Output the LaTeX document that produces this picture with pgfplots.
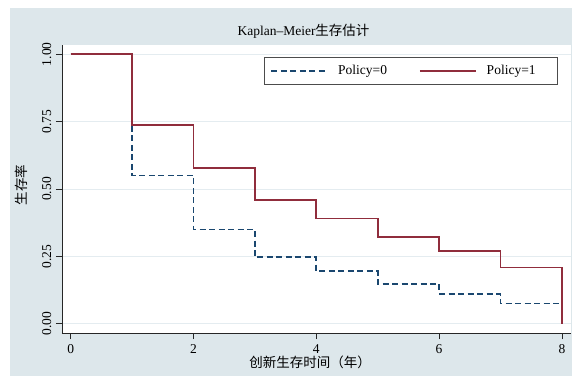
\documentclass[border=0pt]{standalone}
\usepackage{fontspec}
\setmainfont{Liberation Serif}
\newfontfamily\cjk{Noto Sans CJK SC}
\usepackage{pgfplots}
\pgfplotsset{compat=1.18}
\definecolor{bgc}{RGB}{221,231,235}
\definecolor{gridc}{RGB}{228,236,240}
\definecolor{navyc}{RGB}{26,71,111}
\definecolor{maroonc}{RGB}{144,45,60}
\begin{document}
\fontsize{13.5}{16}\selectfont
\begin{tikzpicture}
\useasboundingbox (0pt,0pt) rectangle (572pt,376pt);
\fill[white] (0pt,0pt) rectangle (572pt,376pt);
\fill[bgc] (10pt,0pt) rectangle (572pt,368pt);
\begin{axis}[
  scale only axis,
  width=509pt, height=288pt,
  at={(62pt,43pt)}, anchor=south west,
  xmin=-0.142, xmax=8.148,
  ymin=-0.0345, ymax=1.0345,
  axis background/.style={fill=white},
  axis x line*=bottom, axis y line*=left,
  axis line style={black!85, line width=0.8pt},
  xtick={0,2,4,6,8},
  ytick={0,0.25,0.5,0.75,1},
  yticklabels={0.00,0.25,0.50,0.75,1.00},
  tick align=outside,
  major tick length=6pt,
  tick style={black!85, line width=0.7pt},
  ymajorgrids,
  grid style={gridc, line width=1pt},
  /pgf/number format/assume math mode=true,
  every tick label/.append style={font=\fontsize{13.5}{16}\selectfont},
  yticklabel style={rotate=90, anchor=south, xshift=0pt},
  xticklabel style={yshift=-1pt},
  legend columns=2,
  legend cell align=left,
  legend style={at={(0.397,0.958)}, anchor=north west,
    draw=black!70, line width=0.8pt, fill=white,
    font=\fontsize{13.5}{16}\selectfont,
    inner xsep=6pt, inner ysep=6pt,
    /tikz/every even column/.append style={column sep=30pt}},
  legend image code/.code={\draw[#1] (0pt,0pt) -- (56pt,0pt); \path (64pt,0pt);},
]
\addplot[const plot, navyc, line width=1.7pt, dash pattern=on 6pt off 3.5pt]
  coordinates {(0,1) (1,0.550) (2,0.350) (3,0.247) (4,0.195) (5,0.148) (6,0.111) (7,0.075) (8,0.075)};
\addlegendentry{Policy=0}
\addplot[const plot, maroonc, line width=1.7pt]
  coordinates {(0,1) (1,0.738) (2,0.578) (3,0.459) (4,0.390) (5,0.323) (6,0.271) (7,0.209) (8,0.209) (8,0)};
\addlegendentry{Policy=1\rule{14pt}{0pt}}
\end{axis}
\node at (303.5pt,345pt) {Kaplan--Meier{\cjk 生存估计}};
\node[rotate=90] at (21pt,191pt) {{\cjk 生存率}};
\node at (310pt,14pt) {{\cjk 创新生存时间（年）}};
\end{tikzpicture}
\end{document}
